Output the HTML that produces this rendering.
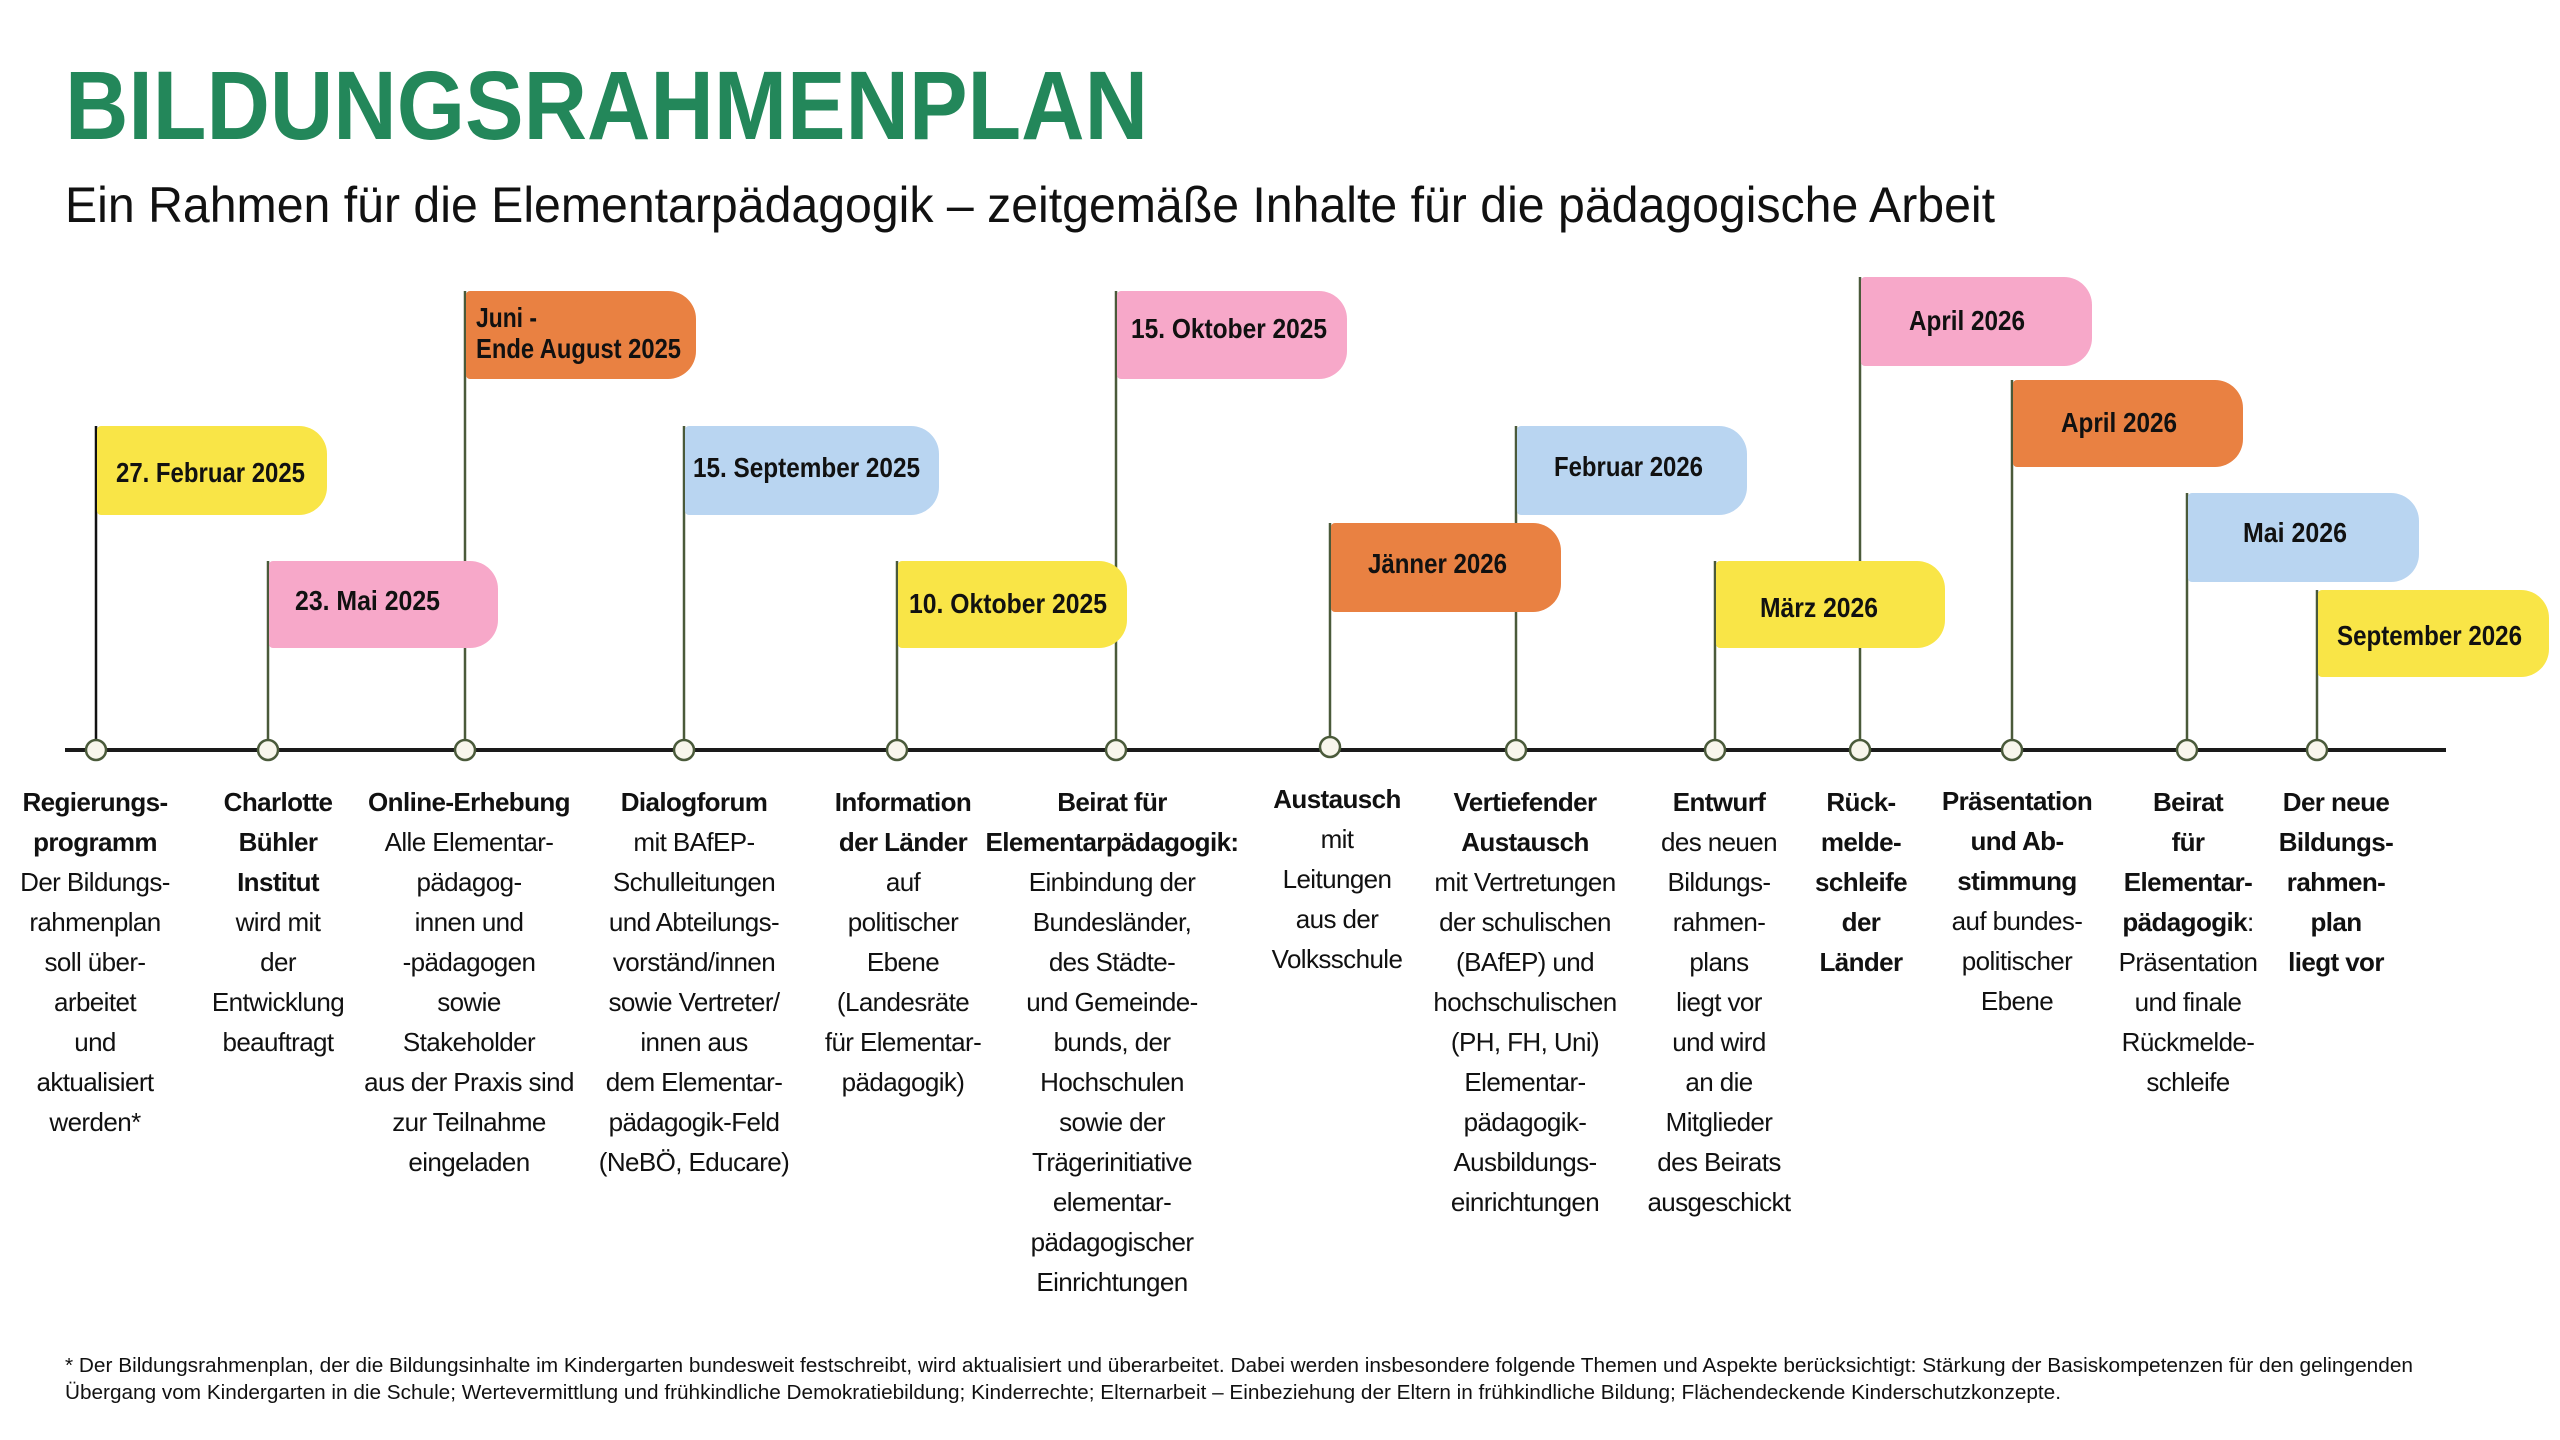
<!DOCTYPE html>
<html><head><meta charset="utf-8"><style>
html,body{margin:0;padding:0;background:#fff;}
svg{display:block;}
.t{font-family:"Liberation Sans",sans-serif;}
.bx{font-family:"Liberation Sans",sans-serif;font-weight:bold;font-size:28px;fill:#111;}
.lb{font-family:"Liberation Sans",sans-serif;font-size:26px;fill:#111;text-anchor:middle;letter-spacing:-0.6px;}
.lb .b{font-weight:bold;}
</style></head><body>
<svg width="2560" height="1440" viewBox="0 0 2560 1440" xmlns="http://www.w3.org/2000/svg">
<rect width="2560" height="1440" fill="#fff"/>
<text class="t" x="65" y="139" font-size="97" font-weight="bold" fill="#23875a" textLength="1083" lengthAdjust="spacingAndGlyphs">BILDUNGSRAHMENPLAN</text>
<text class="t" x="65" y="222" font-size="50" fill="#111" textLength="1930" lengthAdjust="spacingAndGlyphs">Ein Rahmen für die Elementarpädagogik – zeitgemäße Inhalte für die pädagogische Arbeit</text>

<g stroke="#4a5a3a" stroke-width="2.5">
<line x1="96" y1="749" x2="96" y2="426" stroke="#111"/>
<line x1="268" y1="749" x2="268" y2="561"/>
<line x1="465" y1="749" x2="465" y2="291"/>
<line x1="684" y1="749" x2="684" y2="426"/>
<line x1="897" y1="749" x2="897" y2="561"/>
<line x1="1116" y1="749" x2="1116" y2="291"/>
<line x1="1330" y1="749" x2="1330" y2="523"/>
<line x1="1516" y1="749" x2="1516" y2="426"/>
<line x1="1715" y1="749" x2="1715" y2="561"/>
<line x1="1860" y1="749" x2="1860" y2="277"/>
<line x1="2012" y1="749" x2="2012" y2="380"/>
<line x1="2187" y1="749" x2="2187" y2="493"/>
<line x1="2317" y1="749" x2="2317" y2="590"/>
</g>

<g>
<rect x="97" y="426" width="150" height="89" rx="4" fill="#f9e547"/><rect x="200" y="426" width="127" height="89" rx="28" fill="#f9e547"/>
<rect x="269" y="561" width="150" height="87" rx="4" fill="#f7a8c9"/><rect x="370" y="561" width="128" height="87" rx="28" fill="#f7a8c9"/>
<rect x="466" y="291" width="150" height="88" rx="4" fill="#e98142"/><rect x="570" y="291" width="126" height="88" rx="28" fill="#e98142"/>
<rect x="685" y="426" width="170" height="89" rx="4" fill="#b9d5f1"/><rect x="810" y="426" width="129" height="89" rx="28" fill="#b9d5f1"/>
<rect x="898" y="561" width="150" height="87" rx="4" fill="#f9e547"/><rect x="1000" y="561" width="127" height="87" rx="28" fill="#f9e547"/>
<rect x="1117" y="291" width="150" height="88" rx="4" fill="#f7a8c9"/><rect x="1220" y="291" width="127" height="88" rx="28" fill="#f7a8c9"/>
<rect x="1331" y="523" width="150" height="89" rx="4" fill="#e98142"/><rect x="1430" y="523" width="131" height="89" rx="28" fill="#e98142"/>
<rect x="1517" y="426" width="150" height="89" rx="4" fill="#b9d5f1"/><rect x="1620" y="426" width="127" height="89" rx="28" fill="#b9d5f1"/>
<rect x="1716" y="561" width="150" height="87" rx="4" fill="#f9e547"/><rect x="1820" y="561" width="125" height="87" rx="28" fill="#f9e547"/>
<rect x="1861" y="277" width="150" height="89" rx="4" fill="#f7a8c9"/><rect x="1960" y="277" width="132" height="89" rx="28" fill="#f7a8c9"/>
<rect x="2013" y="380" width="150" height="87" rx="4" fill="#e98142"/><rect x="2110" y="380" width="133" height="87" rx="28" fill="#e98142"/>
<rect x="2188" y="493" width="150" height="89" rx="4" fill="#b9d5f1"/><rect x="2290" y="493" width="129" height="89" rx="28" fill="#b9d5f1"/>
<rect x="2318" y="590" width="150" height="87" rx="4" fill="#f9e547"/><rect x="2420" y="590" width="129" height="87" rx="28" fill="#f9e547"/>
</g>

<g class="bx">
<text x="116" y="482" textLength="189" lengthAdjust="spacingAndGlyphs">27. Februar 2025</text>
<text x="295" y="610" textLength="145" lengthAdjust="spacingAndGlyphs">23. Mai 2025</text>
<text x="476" y="327" textLength="61" lengthAdjust="spacingAndGlyphs">Juni -</text>
<text x="476" y="358" textLength="205" lengthAdjust="spacingAndGlyphs">Ende August 2025</text>
<text x="693" y="477" textLength="227" lengthAdjust="spacingAndGlyphs">15. September 2025</text>
<text x="909" y="613" textLength="198" lengthAdjust="spacingAndGlyphs">10. Oktober 2025</text>
<text x="1131" y="338" textLength="196" lengthAdjust="spacingAndGlyphs">15. Oktober 2025</text>
<text x="1368" y="573" textLength="139" lengthAdjust="spacingAndGlyphs">Jänner 2026</text>
<text x="1554" y="476" textLength="149" lengthAdjust="spacingAndGlyphs">Februar 2026</text>
<text x="1760" y="617" textLength="118" lengthAdjust="spacingAndGlyphs">März 2026</text>
<text x="1909" y="330" textLength="116" lengthAdjust="spacingAndGlyphs">April 2026</text>
<text x="2061" y="432" textLength="116" lengthAdjust="spacingAndGlyphs">April 2026</text>
<text x="2243" y="542" textLength="104" lengthAdjust="spacingAndGlyphs">Mai 2026</text>
<text x="2337" y="645" textLength="185" lengthAdjust="spacingAndGlyphs">September 2026</text>
</g>

<line x1="65" y1="750" x2="2446" y2="750" stroke="#1a1a1a" stroke-width="4"/>
<g fill="#f8f6ec" stroke="#4a5a3a" stroke-width="2.5">
<circle cx="96" cy="750" r="10"/><circle cx="268" cy="750" r="10"/><circle cx="465" cy="750" r="10"/>
<circle cx="684" cy="750" r="10"/><circle cx="897" cy="750" r="10"/><circle cx="1116" cy="750" r="10"/>
<circle cx="1330" cy="747" r="10"/><circle cx="1516" cy="750" r="10"/><circle cx="1715" cy="750" r="10"/>
<circle cx="1860" cy="750" r="10"/><circle cx="2012" cy="750" r="10"/><circle cx="2187" cy="750" r="10"/>
<circle cx="2317" cy="750" r="10"/>
</g>

<text class="lb" x="95" y="811"><tspan class="b" x="95">Regierungs-</tspan><tspan class="b" x="95" dy="40">programm</tspan><tspan x="95" dy="40">Der Bildungs-</tspan><tspan x="95" dy="40">rahmenplan</tspan><tspan x="95" dy="40">soll über-</tspan><tspan x="95" dy="40">arbeitet</tspan><tspan x="95" dy="40">und</tspan><tspan x="95" dy="40">aktualisiert</tspan><tspan x="95" dy="40">werden*</tspan></text>
<text class="lb" x="278" y="811"><tspan class="b" x="278">Charlotte</tspan><tspan class="b" x="278" dy="40">Bühler</tspan><tspan class="b" x="278" dy="40">Institut</tspan><tspan x="278" dy="40">wird mit</tspan><tspan x="278" dy="40">der</tspan><tspan x="278" dy="40">Entwicklung</tspan><tspan x="278" dy="40">beauftragt</tspan></text>
<text class="lb" x="469" y="811"><tspan class="b" x="469">Online-Erhebung</tspan><tspan x="469" dy="40">Alle Elementar-</tspan><tspan x="469" dy="40">pädagog-</tspan><tspan x="469" dy="40">innen und</tspan><tspan x="469" dy="40">-pädagogen</tspan><tspan x="469" dy="40">sowie</tspan><tspan x="469" dy="40">Stakeholder</tspan><tspan x="469" dy="40">aus der Praxis sind</tspan><tspan x="469" dy="40">zur Teilnahme</tspan><tspan x="469" dy="40">eingeladen</tspan></text>
<text class="lb" x="694" y="811"><tspan class="b" x="694">Dialogforum</tspan><tspan x="694" dy="40">mit BAfEP-</tspan><tspan x="694" dy="40">Schulleitungen</tspan><tspan x="694" dy="40">und Abteilungs-</tspan><tspan x="694" dy="40">vorständ/innen</tspan><tspan x="694" dy="40">sowie Vertreter/</tspan><tspan x="694" dy="40">innen aus</tspan><tspan x="694" dy="40">dem Elementar-</tspan><tspan x="694" dy="40">pädagogik-Feld</tspan><tspan x="694" dy="40">(NeBÖ, Educare)</tspan></text>
<text class="lb" x="903" y="811"><tspan class="b" x="903">Information</tspan><tspan class="b" x="903" dy="40">der Länder</tspan><tspan x="903" dy="40">auf</tspan><tspan x="903" dy="40">politischer</tspan><tspan x="903" dy="40">Ebene</tspan><tspan x="903" dy="40">(Landesräte</tspan><tspan x="903" dy="40">für Elementar-</tspan><tspan x="903" dy="40">pädagogik)</tspan></text>
<text class="lb" x="1112" y="811"><tspan class="b" x="1112">Beirat für</tspan><tspan class="b" x="1112" dy="40">Elementarpädagogik:</tspan><tspan x="1112" dy="40">Einbindung der</tspan><tspan x="1112" dy="40">Bundesländer,</tspan><tspan x="1112" dy="40">des Städte-</tspan><tspan x="1112" dy="40">und Gemeinde-</tspan><tspan x="1112" dy="40">bunds, der</tspan><tspan x="1112" dy="40">Hochschulen</tspan><tspan x="1112" dy="40">sowie der</tspan><tspan x="1112" dy="40">Trägerinitiative</tspan><tspan x="1112" dy="40">elementar-</tspan><tspan x="1112" dy="40">pädagogischer</tspan><tspan x="1112" dy="40">Einrichtungen</tspan></text>
<text class="lb" x="1337" y="808"><tspan class="b" x="1337">Austausch</tspan><tspan x="1337" dy="40">mit</tspan><tspan x="1337" dy="40">Leitungen</tspan><tspan x="1337" dy="40">aus der</tspan><tspan x="1337" dy="40">Volksschule</tspan></text>
<text class="lb" x="1525" y="811"><tspan class="b" x="1525">Vertiefender</tspan><tspan class="b" x="1525" dy="40">Austausch</tspan><tspan x="1525" dy="40">mit Vertretungen</tspan><tspan x="1525" dy="40">der schulischen</tspan><tspan x="1525" dy="40">(BAfEP) und</tspan><tspan x="1525" dy="40">hochschulischen</tspan><tspan x="1525" dy="40">(PH, FH, Uni)</tspan><tspan x="1525" dy="40">Elementar-</tspan><tspan x="1525" dy="40">pädagogik-</tspan><tspan x="1525" dy="40">Ausbildungs-</tspan><tspan x="1525" dy="40">einrichtungen</tspan></text>
<text class="lb" x="1719" y="811"><tspan class="b" x="1719">Entwurf</tspan><tspan x="1719" dy="40">des neuen</tspan><tspan x="1719" dy="40">Bildungs-</tspan><tspan x="1719" dy="40">rahmen-</tspan><tspan x="1719" dy="40">plans</tspan><tspan x="1719" dy="40">liegt vor</tspan><tspan x="1719" dy="40">und wird</tspan><tspan x="1719" dy="40">an die</tspan><tspan x="1719" dy="40">Mitglieder</tspan><tspan x="1719" dy="40">des Beirats</tspan><tspan x="1719" dy="40">ausgeschickt</tspan></text>
<text class="lb" x="1861" y="811"><tspan class="b" x="1861">Rück-</tspan><tspan class="b" x="1861" dy="40">melde-</tspan><tspan class="b" x="1861" dy="40">schleife</tspan><tspan class="b" x="1861" dy="40">der</tspan><tspan class="b" x="1861" dy="40">Länder</tspan></text>
<text class="lb" x="2017" y="810"><tspan class="b" x="2017">Präsentation</tspan><tspan class="b" x="2017" dy="40">und Ab-</tspan><tspan class="b" x="2017" dy="40">stimmung</tspan><tspan x="2017" dy="40">auf bundes-</tspan><tspan x="2017" dy="40">politischer</tspan><tspan x="2017" dy="40">Ebene</tspan></text>
<text class="lb" x="2188" y="811"><tspan class="b" x="2188">Beirat</tspan><tspan class="b" x="2188" dy="40">für</tspan><tspan class="b" x="2188" dy="40">Elementar-</tspan><tspan x="2188" dy="40"><tspan class="b">pädagogik</tspan>:</tspan><tspan x="2188" dy="40">Präsentation</tspan><tspan x="2188" dy="40">und finale</tspan><tspan x="2188" dy="40">Rückmelde-</tspan><tspan x="2188" dy="40">schleife</tspan></text>
<text class="lb" x="2336" y="811"><tspan class="b" x="2336">Der neue</tspan><tspan class="b" x="2336" dy="40">Bildungs-</tspan><tspan class="b" x="2336" dy="40">rahmen-</tspan><tspan class="b" x="2336" dy="40">plan</tspan><tspan class="b" x="2336" dy="40">liegt vor</tspan></text>

<text class="t" x="65" y="1372" font-size="20" fill="#111" textLength="2348" lengthAdjust="spacingAndGlyphs">* Der Bildungsrahmenplan, der die Bildungsinhalte im Kindergarten bundesweit festschreibt, wird aktualisiert und überarbeitet. Dabei werden insbesondere folgende Themen und Aspekte berücksichtigt: Stärkung der Basiskompetenzen für den gelingenden</text>
<text class="t" x="65" y="1399" font-size="20" fill="#111" textLength="1996" lengthAdjust="spacingAndGlyphs">Übergang vom Kindergarten in die Schule; Wertevermittlung und frühkindliche Demokratiebildung; Kinderrechte; Elternarbeit – Einbeziehung der Eltern in frühkindliche Bildung; Flächendeckende Kinderschutzkonzepte.</text>
</svg>
</body></html>
